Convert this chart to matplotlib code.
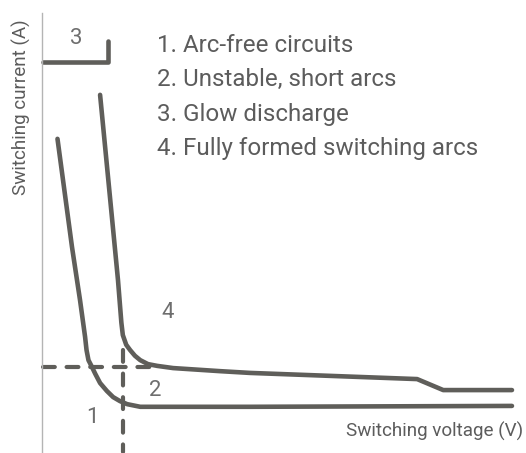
import numpy as np
import matplotlib
matplotlib.use("Agg")
import matplotlib.pyplot as plt

plt.rcParams['font.family'] = ['Roboto', 'DejaVu Sans']
plt.rcParams['lines.scale_dashes'] = False

# curve 1: arc-free limit (voltage, current in arbitrary units)
v1 = [3.2, 6.2, 7.85, 8.9, 9.2, 9.6, 10.3, 11.0, 12.0, 13.4, 14.7, 16.1, 17.6, 20.3, 43.0, 97.1]
i1 = [71.4, 46.8, 34.8, 26.4, 23.4, 21.1, 19.6, 18.0, 15.9, 14.1, 12.7, 11.8, 11.1, 10.5, 10.5, 10.7]

# curve 2: limit of fully formed switching arcs
v2 = [12.0, 14.7, 15.7, 16.4, 16.7, 17.4, 18.2, 19.2, 20.3, 21.9, 23.8, 27.1, 36.8, 43.0, 77.5, 82.9, 97.1]
i2 = [81.4, 50.7, 39.3, 29.6, 26.8, 24.6, 23.4, 22.1, 21.1, 20.2, 19.8, 19.3, 18.6, 18.2, 16.8, 14.3, 14.3]

# glow discharge corner
v3 = [0.2, 13.6, 13.6]
i3 = [88.9, 88.9, 93.6]

# dashed guides
v_min_arc = 16.7
i_min_arc = 19.6

legend_lines = ["1. Arc-free circuits", "2. Unstable, short arcs",
                "3. Glow discharge", "4. Fully formed switching arcs"]
region_labels = ["3", "4", "2", "1"]
region_pos = [(7.1, 93.0), (26.0, 30.7), (23.5, 13.0), (10.5, 6.8)]

line_col = "#5f5e5a"
text_col = "#5c5c5c"
num_col = "#6e6e6e"

fig = plt.figure(figsize=(5.26, 4.53), dpi=100)
ax = fig.add_axes([42/526, 0, 484/526, 440/453])
ax.set_xlim(0, 100)
ax.set_ylim(0, 100)

kw = dict(color=line_col, lw=3.3, solid_capstyle="round", solid_joinstyle="round", clip_on=False)
ax.plot(v1, i1, **kw)
ax.plot(v2, i2, **kw)
ax.plot(v3, i3, **kw)

dkw = dict(color=line_col, lw=3.0, dashes=(8.5, 8.5), dash_capstyle="round", clip_on=False)
ax.plot([0.2, 22.3], [i_min_arc, i_min_arc], **dkw)
ax.plot([v_min_arc, v_min_arc], [23.4, 0.2], **dkw)

# region numbers sit on their baseline
for t, (x, y) in zip(region_labels, region_pos):
    ax.text(x, y, t, fontsize=16, color=num_col, ha="center", va="baseline")

for k, t in enumerate(legend_lines):
    ax.text(23.8, 92.7 - k*7.85, t, fontsize=17.4, color=text_col, ha="left", va="center")

# only the left spine is drawn
for s in ["top", "right", "bottom"]:
    ax.spines[s].set_visible(False)
ax.spines["left"].set_color("#b4b4b4")
ax.spines["left"].set_linewidth(1.0)
ax.set_xticks([])
ax.set_yticks([])

ax.set_ylabel("Switching current (A)", fontsize=13.6, color=text_col, va="center")
ax.yaxis.set_label_coords(-0.043, 0.786)
ax.text(99.4, 4.8, "Switching voltage (V)", fontsize=13.6, color=text_col, ha="right", va="center")

fig.savefig("out.png", dpi=100)
